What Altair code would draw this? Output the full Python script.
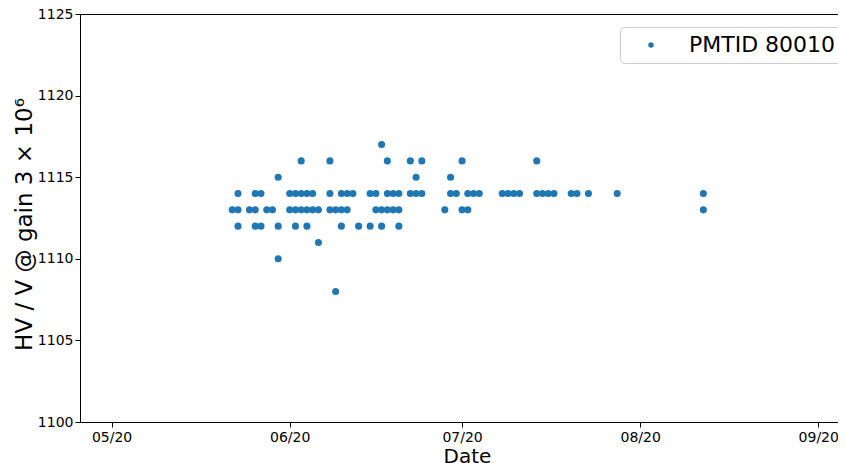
import altair as alt
import pandas as pd

dates = [
    "05-22", "05-23", "05-23", "05-23", "05-25", "05-26", "05-26", "05-26",
    "05-27", "05-27", "05-28", "05-29", "05-30", "05-30", "05-30",
    "06-01", "06-01", "06-02", "06-02", "06-02", "06-03", "06-03", "06-03",
    "06-04", "06-04", "06-04", "06-05", "06-05", "06-06", "06-06",
    "06-08", "06-08", "06-08", "06-09", "06-09", "06-10", "06-10", "06-10",
    "06-11", "06-11", "06-12", "06-13", "06-15", "06-15", "06-16", "06-16",
    "06-17", "06-17", "06-17", "06-18", "06-18", "06-18", "06-19", "06-19",
    "06-20", "06-20", "06-20", "06-22", "06-22", "06-23", "06-23",
    "06-24", "06-24", "06-28", "06-29", "06-29", "06-30", "07-01", "07-01",
    "07-02", "07-02", "07-03", "07-04", "07-08", "07-09", "07-10", "07-11",
    "07-14", "07-14", "07-15", "07-16", "07-17", "07-20", "07-21", "07-23",
    "07-28", "08-12", "08-12",
]
hv = [
    1113, 1114, 1113, 1112, 1113, 1114, 1113, 1112,
    1114, 1112, 1113, 1113, 1115, 1112, 1110,
    1114, 1113, 1114, 1113, 1112, 1116, 1114, 1113,
    1114, 1113, 1112, 1114, 1113, 1113, 1111,
    1116, 1114, 1113, 1113, 1108, 1114, 1113, 1112,
    1114, 1113, 1114, 1112, 1114, 1112, 1114, 1113,
    1117, 1113, 1112, 1116, 1114, 1113, 1114, 1113,
    1114, 1113, 1112, 1116, 1114, 1115, 1114,
    1116, 1114, 1113, 1115, 1114, 1114, 1116, 1113,
    1114, 1113, 1114, 1114, 1114, 1114, 1114, 1114,
    1116, 1114, 1114, 1114, 1114, 1114, 1114, 1114,
    1114, 1114, 1113,
]
series_name = "PMTID 80010"
y_ticks = [1100, 1105, 1110, 1115, 1120, 1125]

df = pd.DataFrame({
    "date": ["2020-" + d + "T00:00:00" for d in dates],
    "hv": hv,
    "series": [series_name] * len(hv),
})

FONT = "DejaVu Sans"

month_ticks = [alt.DateTime(year=2020, month=m, date=1) for m in [5, 6, 7, 8, 9]]

x_scale = alt.Scale(
    domain=[
        alt.DateTime(year=2020, month=4, date=25, hours=12),
        alt.DateTime(year=2020, month=9, date=4, hours=10, minutes=30),
    ]
)
y_scale = alt.Scale(domain=[1100, 1125], nice=False, zero=False)

points = alt.Chart(df).mark_circle(size=50, opacity=1).encode(
    x=alt.X(
        "date:T",
        title="Date",
        scale=x_scale,
        axis=alt.Axis(
            values=month_ticks,
            format="%m/%y",
            labelFlush=False,
            titleX=387,
            titleY=40,
            titleBaseline="alphabetic",
            titleFontSize=20,
        ),
    ),
    y=alt.Y(
        "hv:Q",
        title="HV / V @ gain 3 × 10⁶",
        scale=y_scale,
        axis=alt.Axis(
            values=y_ticks,
            format="d",
            titleX=-49,
            titleY=210,
            titleBaseline="alphabetic",
            titleAngle=270,
            titleFontSize=23,
        ),
    ),
    color=alt.Color(
        "series:N",
        scale=alt.Scale(domain=[series_name], range=["#1f77b4"]),
        legend=alt.Legend(
            title=None,
            orient="none",
            legendX=540,
            legendY=13,
            labelFontSize=22,
            labelFont=FONT,
            labelColor="black",
            symbolType="circle",
            symbolSize=30,
            symbolOffset=13,
            labelOffset=27,
            padding=7,
            strokeColor="#cccccc",
            fillColor="white",
            cornerRadius=4,
            symbolOpacity=1,
            symbolStrokeWidth=0,
        ),
    ),
)

# invisible layer that only carries the top spine
top_spine = alt.Chart(df).mark_point(opacity=0).encode(
    x=alt.X(
        "date:T",
        scale=x_scale,
        axis=alt.Axis(orient="top", labels=False, ticks=False, title=None, domain=True),
    ),
    y=alt.Y("hv:Q", scale=y_scale, axis=None),
)

chart = alt.layer(points, top_spine).resolve_axis(
    x="independent", y="independent"
).properties(
    width=758,
    height=408,
    autosize=alt.AutoSizeParams(type="none"),
    padding={"left": 72, "top": 6, "right": 0, "bottom": 41},
).configure_axis(
    labelFont=FONT,
    titleFont=FONT,
    labelFontSize=14,
    titleFontWeight="normal",
    labelColor="black",
    titleColor="black",
    domainColor="black",
    tickColor="black",
    tickSize=5,
    labelPadding=2,
    grid=False,
).configure_axisX(
    labelPadding=3,
).configure_view(
    stroke=None,
)

chart.save("out.html", embed_options={"renderer": "svg", "actions": False})
